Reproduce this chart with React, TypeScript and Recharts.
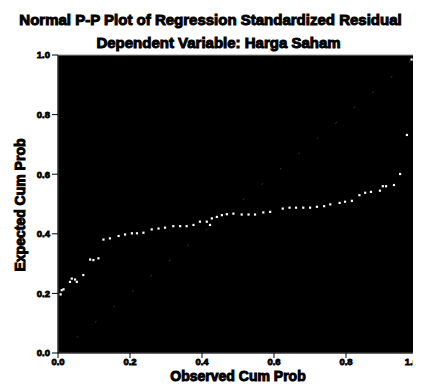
import React from 'react';
import {
  ScatterChart,
  Scatter,
  XAxis,
  YAxis,
  ReferenceArea,
  ReferenceLine,
} from 'recharts';

const observedProb = [
  0.007, 0.01, 0.015, 0.033, 0.038, 0.047, 0.052, 0.07, 0.089, 0.098, 0.112, 0.126,
  0.144, 0.168, 0.186, 0.205, 0.219, 0.237, 0.26, 0.279, 0.297, 0.32, 0.339, 0.357,
  0.376, 0.394, 0.413, 0.422, 0.427, 0.441, 0.455, 0.469, 0.487, 0.51, 0.529, 0.547,
  0.57, 0.589, 0.624, 0.643, 0.661, 0.681, 0.7, 0.719, 0.739, 0.756, 0.782, 0.797,
  0.816, 0.837, 0.853, 0.869, 0.894, 0.902, 0.911, 0.933, 0.95, 0.969, 0.982, 0.996,
];
const expectedProb = [
  0.197, 0.211, 0.214, 0.239, 0.25, 0.247, 0.239, 0.262, 0.314, 0.312, 0.318, 0.381,
  0.385, 0.393, 0.398, 0.402, 0.402, 0.404, 0.415, 0.418, 0.421, 0.426, 0.426, 0.426,
  0.43, 0.441, 0.441, 0.43, 0.452, 0.457, 0.463, 0.466, 0.468, 0.465, 0.465, 0.465,
  0.472, 0.474, 0.485, 0.488, 0.488, 0.488, 0.488, 0.491, 0.493, 0.499, 0.504, 0.508,
  0.511, 0.53, 0.538, 0.541, 0.545, 0.56, 0.56, 0.564, 0.601, 0.732, 0.985, 0.985,
];
const ticks = [0, 0.2, 0.4, 0.6, 0.8, 1];

const points = observedProb.map((x, i) => ({ x, y: expectedProb[i] }));

const heavy: React.CSSProperties = {
  fontFamily: '"Liberation Sans", Arial, sans-serif',
  fontWeight: 'bold',
  color: '#000',
  WebkitTextStroke: '1px #000',
  whiteSpace: 'nowrap',
  position: 'absolute',
};

const tickFont = {
  fontSize: 9.5,
  fontFamily: '"Liberation Sans", Arial, sans-serif',
  fontWeight: 'bold',
  fill: '#000',
  stroke: '#000',
  strokeWidth: 0.8,
};

// last x tick sits on the right edge, so pull it inward
const XTick = (props: any) => {
  const { x, y, payload, index } = props;
  const last = index === ticks.length - 1;
  return (
    <text x={x} y={y + 5} textAnchor={last ? 'end' : 'middle'} {...tickFont}>
      {Number(payload.value).toFixed(1)}
    </text>
  );
};

const Dot = (props: any) => (
  <rect x={props.cx - 1} y={props.cy - 1} width={2.2} height={2.2} fill="#fff" />
);

export default function App() {
  return (
    <div style={{ position: 'relative', width: 421, height: 390, margin: -8, background: '#fff', overflow: 'hidden' }}>
      <div style={{ ...heavy, fontSize: 15, lineHeight: '17px', left: 0, width: 421, textAlign: 'center', top: 11 }}>
        Normal P-P Plot of Regression Standardized Residual
      </div>
      <div style={{ ...heavy, fontSize: 15, lineHeight: '17px', left: 0, width: 437, textAlign: 'center', top: 34 }}>
        Dependent Variable: Harga Saham
      </div>
      <ScatterChart
        width={421}
        height={390}
        margin={{ top: 55, right: 3, bottom: 17, left: 0 }}
      >
        <XAxis
          type="number"
          dataKey="x"
          domain={[0, 1]}
          ticks={ticks}
          height={20}
          tick={<XTick />}
          stroke="#000"
          tickSize={5}
          interval={0}
        />
        <YAxis
          type="number"
          dataKey="y"
          domain={[0, 1]}
          ticks={ticks}
          tickFormatter={(v: number) => v.toFixed(1)}
          width={58}
          tick={tickFont}
          stroke="#000"
          tickSize={6}
          interval={0}
        />
        <ReferenceArea x1={0} x2={1} y1={0} y2={1} fill="#000" fillOpacity={1} stroke="#999" strokeWidth={1} />
        <ReferenceLine
          segment={[{ x: 0, y: 0 }, { x: 1, y: 1 }]}
          stroke="#3a3a3a"
          strokeDasharray="2 22"
        />
        <Scatter data={points} shape={Dot} isAnimationActive={false} />
      </ScatterChart>
      <div style={{ ...heavy, fontSize: 14, lineHeight: '14px', left: 158, width: 160, textAlign: 'center', top: 369 }}>
        Observed Cum Prob
      </div>
      <div
        style={{
          ...heavy,
          fontSize: 14,
          lineHeight: '14px',
          left: 20 - 80,
          top: 205 - 7,
          width: 160,
          textAlign: 'center',
          transform: 'rotate(-90deg)',
        }}
      >
        Expected Cum Prob
      </div>
    </div>
  );
}
